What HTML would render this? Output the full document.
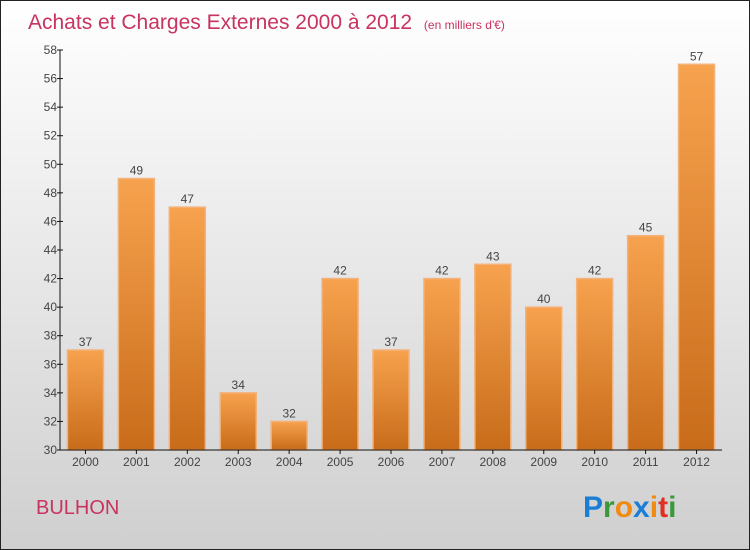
<!DOCTYPE html>
<html><head><meta charset="utf-8"><style>
html,body{margin:0;padding:0}
body{width:750px;height:550px;overflow:hidden;font-family:"Liberation Sans",sans-serif}
#wrap{position:absolute;left:0;top:0;width:748px;height:548px;border:1px solid #222;background:linear-gradient(#ffffff,#cfcfcf)}
</style></head><body>
<div id="wrap">
<svg width="750" height="550" style="position:absolute;left:-1px;top:-1px">
<defs>
<linearGradient id="bg" x1="0" y1="0" x2="0" y2="1"><stop offset="0" stop-color="#f7a24e"/><stop offset="1" stop-color="#c86c1a"/></linearGradient>
</defs>
<text x="28" y="29" font-size="21" fill="#c8335f">Achats et Charges Externes 2000 à 2012 <tspan font-size="12" dx="6">(en milliers d'€)</tspan></text>
<g id="yaxis"></g>
<g id="bars"></g>
<g id="xaxis"></g>
<text x="36" y="514" font-size="20" fill="#c8335f">BULHON</text>
<g font-size="30" font-weight="bold" font-family="Liberation Sans,sans-serif">
<text x="583" y="517"><tspan fill="#1a7fd4">P</tspan><tspan fill="#3a9a3a">r</tspan><tspan fill="#f08a10">o</tspan><tspan fill="#1a7fd4">x</tspan><tspan fill="#f08a10">i</tspan><tspan fill="#e03020">t</tspan><tspan fill="#3a9a3a">i</tspan></text>
</g>
</svg>
</div>
<script>
const categories=["2000","2001","2002","2003","2004","2005","2006","2007","2008","2009","2010","2011","2012"];
const values=[37,49,47,34,32,42,37,42,43,40,42,45,57];
const yTicks=[30,32,34,36,38,40,42,44,46,48,50,52,54,56,58];
const NS="http://www.w3.org/2000/svg";
const x0=60,x1=722,yTop=50,yBot=450,yMin=30,yMax=58;
const step=(x1-x0)/categories.length,bw=36;
function y(v){return yBot-(v-yMin)/(yMax-yMin)*(yBot-yTop);}
function xc(i){return x0+(i+0.5)*step;}
function el(t,a,p){const e=document.createElementNS(NS,t);for(const k in a)e.setAttribute(k,a[k]);p.appendChild(e);return e;}
const ya=document.getElementById('yaxis'),xa=document.getElementById('xaxis'),bg=document.getElementById('bars');
el('line',{x1:x0,y1:yTop,x2:x0,y2:yBot,stroke:'#111'},ya);
yTicks.forEach(t=>{
 const l=el('line',{x1:x0-3,y1:y(t),x2:x0+3,y2:y(t),stroke:'#111'},ya);
 
 
 const tx=el('text',{x:x0-3,y:y(t)+4,'font-size':12,fill:'#444','text-anchor':'end'},ya);
 tx.textContent=t;
 
 
});
el('line',{x1:x0,y1:yBot,x2:x1,y2:yBot,stroke:'#111'},xa);
categories.forEach((c,i)=>{
 const v=values[i];
 const r=el('rect',{x:xc(i)-bw/2,y:y(v),width:bw,height:yBot-y(v),fill:'url(#bg)',stroke:'#f3b27a','stroke-width':1.5},bg);
 
 
 const lt=el('text',{x:xc(i),y:y(v)-4,'font-size':12,fill:'#444','text-anchor':'middle'},bg);
 lt.textContent=v;
 
 
 el('line',{x1:xc(i),y1:yBot,x2:xc(i),y2:yBot+4,stroke:'#111'},xa);
 const tx=el('text',{x:xc(i),y:yBot+16,'font-size':12,fill:'#444','text-anchor':'middle'},xa);
 tx.textContent=c;
 
 
});
</script>
</body></html>
